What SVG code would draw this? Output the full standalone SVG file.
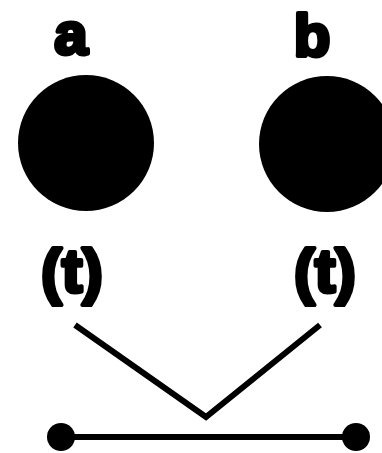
<svg xmlns="http://www.w3.org/2000/svg" width="382" height="453" viewBox="0 0 382 453">
<style>
.lbl{font-family:"Liberation Sans",Arial,sans-serif;font-weight:bold;fill:#000;stroke:#000;stroke-width:4;stroke-linejoin:round;text-anchor:middle}
.ln{stroke:#000;stroke-width:6;fill:none;stroke-linecap:butt}
</style>
<rect width="382" height="453" fill="#fff"/>
<g id="node-a">
<text class="lbl" x="71" y="54" font-size="60">a</text>
<circle cx="86" cy="143" r="68" fill="#000"/>
<text class="lbl" x="72" y="292" font-size="62">(t)</text>
</g>
<g id="node-b">
<text class="lbl" x="312" y="56" font-size="60">b</text>
<circle cx="327" cy="144" r="68" fill="#000"/>
<text class="lbl" x="325" y="292" font-size="62">(t)</text>
</g>
<g id="connectors">
<polyline class="ln" points="75,325 206,417 320,325"/>
<line class="ln" x1="61" y1="437" x2="357" y2="437" stroke-width="7"/>
<circle cx="61" cy="437" r="14" fill="#000"/>
<circle cx="356" cy="437" r="14" fill="#000"/>
</g>
</svg>
